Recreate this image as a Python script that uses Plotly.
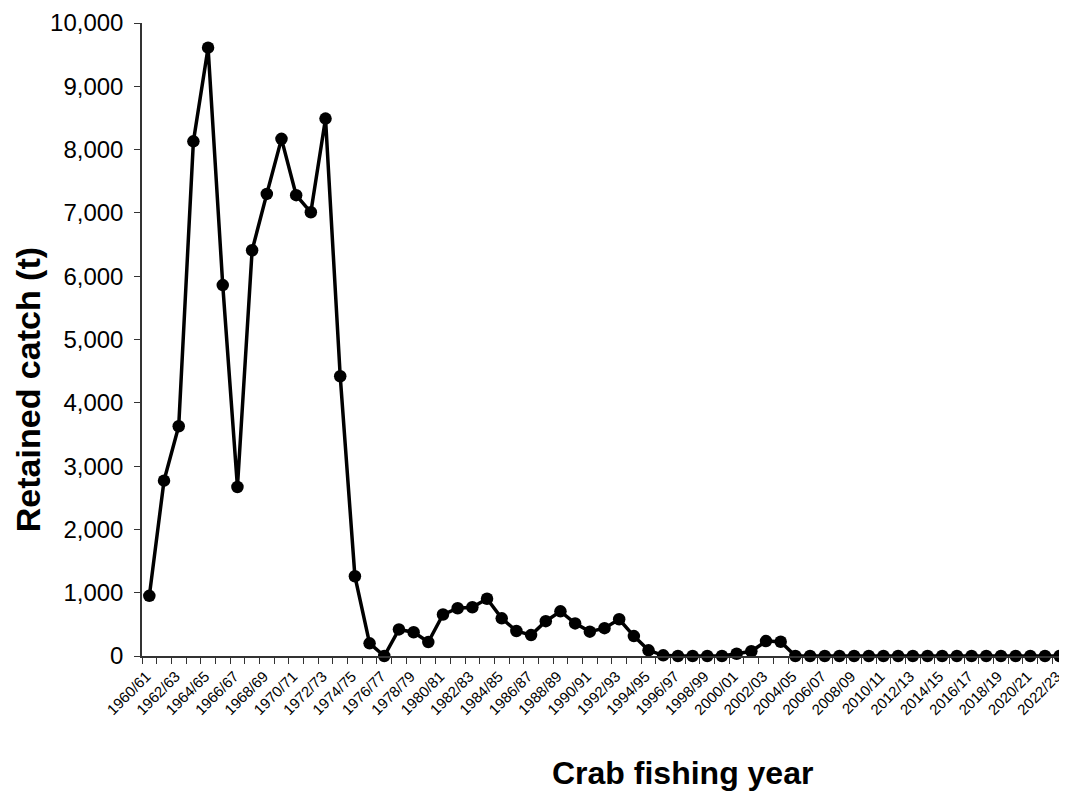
import plotly.graph_objects as go

years = [f"{y}/{str(y+1)[-2:]}" for y in range(1960, 2023)]
catch = [950, 2770, 3630, 8130, 9610, 5860, 2670, 6410, 7300, 8170,
         7280, 7010, 8490, 4420, 1260, 200, 0, 420, 375, 220,
         655, 755, 770, 905, 595, 395, 330, 550, 705, 515,
         385, 440, 580, 315, 90, 10, 0, 0, 0, 0,
         35, 75, 235, 225, 0, 0, 0, 0, 0, 0,
         0, 0, 0, 0, 0, 0, 0, 0, 0, 0,
         0, 0, 0]
y_ticks = list(range(0, 10001, 1000))
xidx = list(range(len(years)))
label_idx = xidx[::2]
label_text = [years[i] for i in label_idx]

FONT = "Arial, Liberation Sans, sans-serif"

fig = go.Figure()
fig.add_trace(go.Scatter(
    x=xidx, y=catch, mode="lines+markers",
    line=dict(color="black", width=3.5),
    marker=dict(color="black", size=12.5),
    cliponaxis=False, showlegend=False,
))

fig.update_layout(
    width=1059, height=786,
    margin=dict(l=134, r=0, t=15, b=138),
    plot_bgcolor="white", paper_bgcolor="white",
    font=dict(family=FONT, color="black"),
    xaxis=dict(
        range=[-0.5, 62.5], tickmode="array", tickvals=label_idx, ticktext=label_text,
        tickangle=-45, tickfont=dict(size=15), ticks="", ticklabelstandoff=4,
        ticklabelshift=-3, ticklabeloverflow="allow",
        showline=True, linecolor="#333", linewidth=1.5, showgrid=False, zeroline=False,
        automargin=False,
        minor=dict(tickmode="linear", tick0=-0.5, dtick=1, ticks="outside", ticklen=6,
                   tickcolor="#333", tickwidth=1, showgrid=False),
    ),
    yaxis=dict(
        range=[0, 10000], tickmode="array", tickvals=y_ticks,
        ticktext=[f"{v:,}" for v in y_ticks],
        tickfont=dict(size=24), ticks="outside", ticklen=6, tickcolor="#333",
        ticklabelstandoff=6, ticklabeloverflow="allow",
        showline=True, linecolor="#333", linewidth=1.5, showgrid=False, zeroline=False,
        automargin=False,
    ),
    annotations=[
        dict(text="<b>Crab fishing year</b>", xref="paper", yref="paper",
             x=0.584, y=-0.185, xanchor="center", yanchor="middle",
             showarrow=False, font=dict(size=32, family=FONT)),
        dict(text="<b>Retained catch (t)</b>", xref="paper", yref="paper",
             x=-0.1232, y=0.42, xanchor="center", yanchor="middle", textangle=-90,
             showarrow=False, font=dict(size=34, family=FONT)),
    ],
)

fig.write_html("out.html")
